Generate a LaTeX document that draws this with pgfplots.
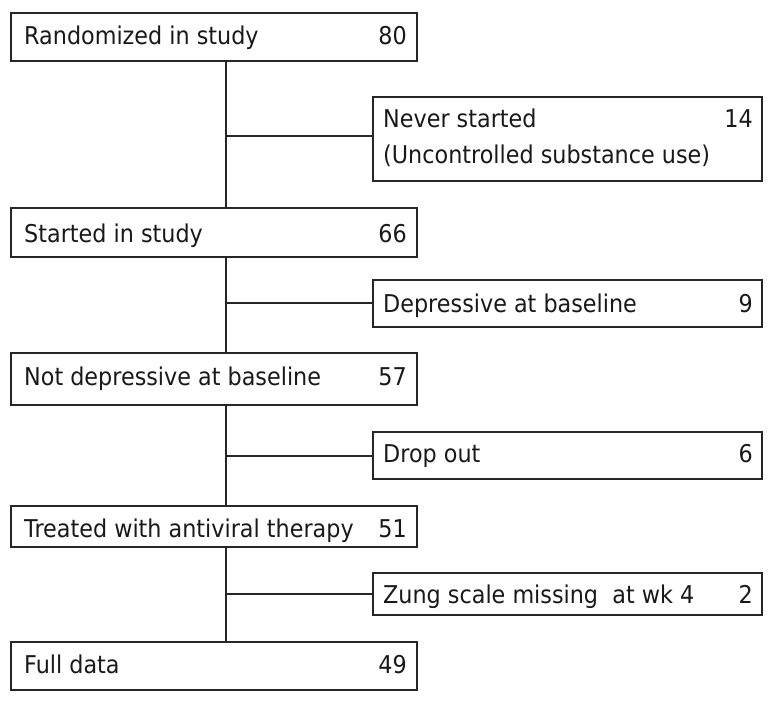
\documentclass[border=0pt]{standalone}
\usepackage{fontspec}
\setmainfont{DejaVu Sans}[FakeStretch=0.91]
\usepackage{pgfplots}
\pgfplotsset{compat=1.18}
\begin{document}
\begin{tikzpicture}
\begin{axis}[
  scale only axis, width=778pt, height=702pt,
  xmin=0, xmax=778, ymin=0, ymax=702, y dir=reverse,
  hide axis, clip=false,
  ln/.style={draw=black!85, line width=1.3pt, mark=none, solid},
  nodes={font=\fontsize{24.5}{29}\selectfont, inner sep=0pt, text=black!90},
]
% keep the full canvas in the bounding box
\path (axis cs:0,0) rectangle (axis cs:778,702);
% main column boxes
\addplot[ln] coordinates {(11,13)(417,13)(417,61)(11,61)} -- cycle;
\addplot[ln] coordinates {(11,208)(417,208)(417,257)(11,257)} -- cycle;
\addplot[ln] coordinates {(11,353)(417,353)(417,405)(11,405)} -- cycle;
\addplot[ln] coordinates {(11,506)(417,506)(417,547)(11,547)} -- cycle;
\addplot[ln] coordinates {(11,642)(417,642)(417,690)(11,690)} -- cycle;
% exclusion boxes
\addplot[ln] coordinates {(373,97)(762,97)(762,181)(373,181)} -- cycle;
\addplot[ln] coordinates {(373,280)(762,280)(762,327)(373,327)} -- cycle;
\addplot[ln] coordinates {(373,432)(762,432)(762,479)(373,479)} -- cycle;
\addplot[ln] coordinates {(373,573)(762,573)(762,615)(373,615)} -- cycle;
% connectors
\addplot[ln] coordinates {(226,61)(226,208)};
\addplot[ln] coordinates {(226,257)(226,353)};
\addplot[ln] coordinates {(226,405)(226,506)};
\addplot[ln] coordinates {(226,547)(226,642)};
\addplot[ln] coordinates {(226,136)(373,136)};
\addplot[ln] coordinates {(226,303)(373,303)};
\addplot[ln] coordinates {(226,456)(373,456)};
\addplot[ln] coordinates {(226,594)(373,594)};
% labels
\node[anchor=base west] at (axis cs:24,44) {Randomized in study};
\node[anchor=base east] at (axis cs:407,44) {80};
\node[anchor=base west] at (axis cs:24,242) {Started in study};
\node[anchor=base east] at (axis cs:407,242) {66};
\node[anchor=base west] at (axis cs:24,385) {Not depressive at baseline};
\node[anchor=base east] at (axis cs:407,385) {57};
\node[anchor=base west] at (axis cs:24,537) {Treated with antiviral therapy};
\node[anchor=base east] at (axis cs:407,537) {51};
\node[anchor=base west] at (axis cs:24,673) {Full data};
\node[anchor=base east] at (axis cs:407,673) {49};
\node[anchor=base west] at (axis cs:383,127) {Never started};
\node[anchor=base east] at (axis cs:753,127) {14};
\node[anchor=base west] at (axis cs:383,163) {(Uncontrolled substance use)};
\node[anchor=base west] at (axis cs:383,312) {Depressive at baseline};
\node[anchor=base east] at (axis cs:753,312) {9};
\node[anchor=base west] at (axis cs:383,462) {Drop out};
\node[anchor=base east] at (axis cs:753,462) {6};
\node[anchor=base west] at (axis cs:383,603) {Zung scale missing\ \ at wk 4};
\node[anchor=base east] at (axis cs:753,603) {2};
\end{axis}
\end{tikzpicture}
\end{document}
